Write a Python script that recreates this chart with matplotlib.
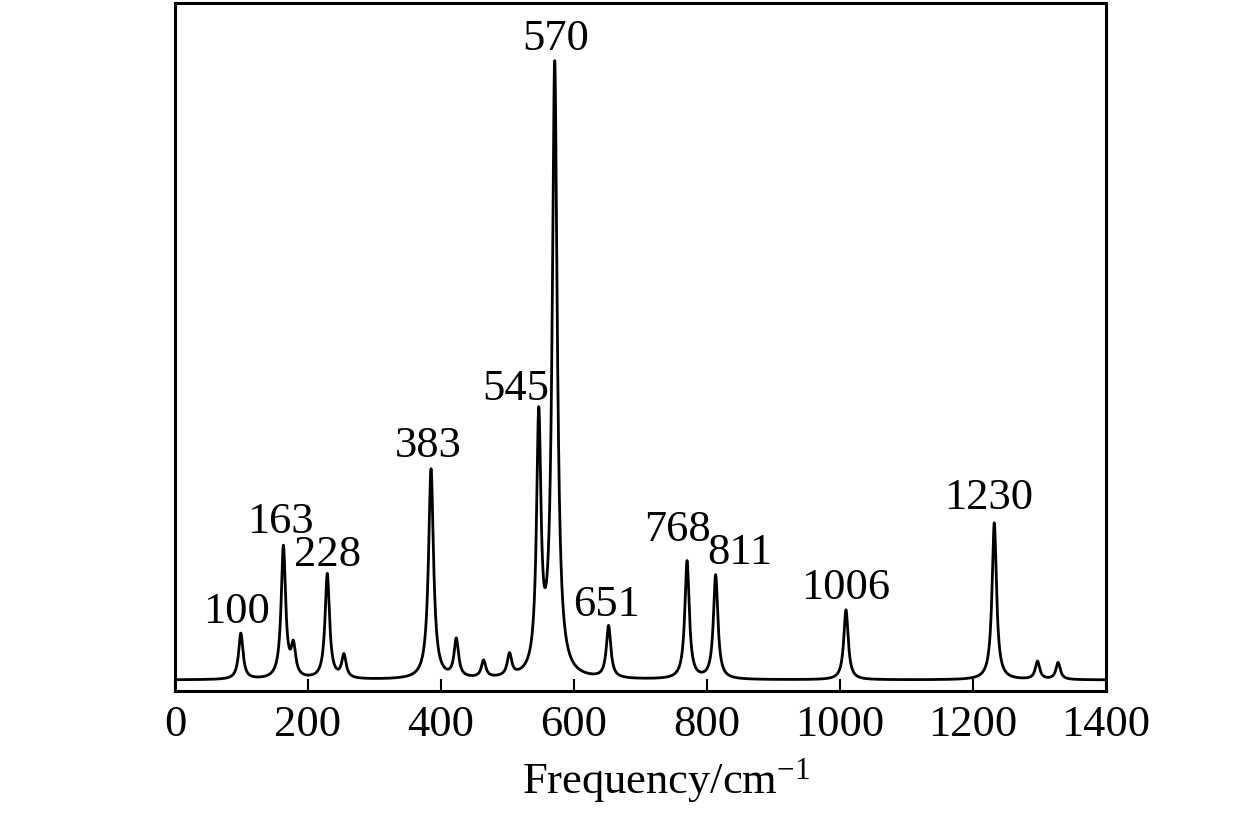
import numpy as np
import matplotlib
matplotlib.use('Agg')
import matplotlib.pyplot as plt

plt.rcParams['font.family'] = ['Liberation Serif', 'DejaVu Serif']
plt.rcParams['mathtext.fontset'] = 'custom'
plt.rcParams['mathtext.rm'] = 'Liberation Serif'
plt.rcParams['mathtext.it'] = 'Liberation Serif:italic'

# peak list (position cm-1, height, half width)
peak_pos = [99, 163, 178, 229, 254, 385, 423, 464, 503, 547, 571, 652, 770, 813, 1009, 1232, 1297, 1328]
peak_height = [46, 132, 30, 105, 23, 210, 38, 17, 22, 252, 612, 52, 118, 104, 70, 157, 18, 17]
peak_hwhm = [4, 4, 4, 4, 4, 4.5, 4, 4, 4, 4, 4.5, 4, 4, 4, 4, 4, 4, 4]

# labels: text, x, y
label_text = ['100', '163', '228', '383', '545', '570', '651', '768', '811', '1006', '1230']
label_x = [92, 158, 230, 381, 513, 573, 649, 755, 849, 1008, 1224]
label_y = [57, 147, 114, 223, 280, 630, 64, 139, 116, 81, 171]

freq = np.linspace(3, 1400, 5589)
inten = np.zeros_like(freq)
for p, h, g in zip(peak_pos, peak_height, peak_hwhm):
    inten += h * g**2 / ((freq - p)**2 + g**2)

fig = plt.figure(figsize=(12.6, 8.16), dpi=100)
ax = fig.add_axes([175/1260, 1-691/816, (1106-175)/1260, (691-3)/816])
ax.plot(freq, inten, color='black', lw=2.0)

for t, x, y in zip(label_text, label_x, label_y):
    ax.text(x, y, t, fontsize=32, ha='center', va='baseline')

ax.set_xlim(0, 1400)
ax.set_ylim(-11, 677)
ax.set_xticks(range(0, 1401, 200))
ax.set_yticks([])
ax.tick_params(axis='x', direction='in', length=9, width=1.5, labelsize=32, pad=10)
for s in ax.spines.values():
    s.set_linewidth(2.2)

ax.set_xlabel(r'Frequency/cm$^{-1}$', fontsize=32)
ax.xaxis.set_label_coords(0.528, -0.095)

plt.savefig('out.png', dpi=100)
